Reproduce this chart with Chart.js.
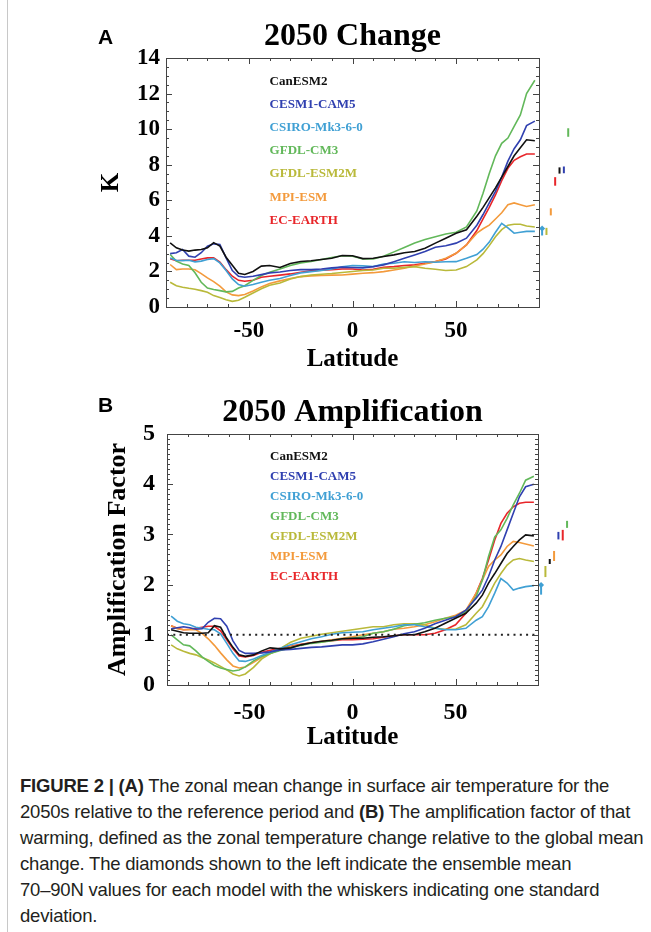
<!DOCTYPE html>
<html lang="en">
<head>
<meta charset="UTF-8">
<title>2050 Change / 2050 Amplification</title>
<script src="https://cdn.jsdelivr.net/npm/chart.js"></script>
<style>
  body {
    margin: 0;
    background: #fff;
    width: 651px;
    height: 932px;
    position: relative;
    overflow: hidden;
  }
  .panel {
    position: absolute;
    left: 0;
    width: 651px;
    height: 380px;
  }
  #panelA { top: 0; }
  #panelB { top: 380px; }
  .tag {
    position: absolute;
    left: 98px;
    font: bold 21px/21px "Liberation Sans", Arial, sans-serif;
    color: #000;
  }
  .edge {
    position: absolute;
    left: 7px;
    top: 0;
    width: 1px;
    height: 932px;
    background: #c8c8c8;
  }
  #caption {
    position: absolute;
    left: 20px;
    top: 773px;
    font: 18.5px/26px "Liberation Sans", Arial, sans-serif;
    letter-spacing: -0.2px;
    color: #231f20;
    white-space: nowrap;
  }
  #caption b { font-weight: bold; }
</style>
</head>
<body>
<div class="edge"></div>
<div class="panel" id="panelA"><canvas id="changeChart"></canvas></div>
<div class="panel" id="panelB"><canvas id="ampChart"></canvas></div>
<div class="tag" style="top:26px">A</div>
<div class="tag" style="top:394px">B</div>
<div id="caption">
  <b>FIGURE 2 | (A)</b> The zonal mean change in surface air temperature for the<br>
  2050s relative to the reference period and <b>(B)</b> The amplification factor of that<br>
  warming, defined as the zonal temperature change relative to the global mean<br>
  change. The diamonds shown to the left indicate the ensemble mean<br>
  70–90N values for each model with the whiskers indicating one standard<br>
  deviation.
</div>

<script>
  // latitude grid shared by every zonal-mean curve
  const latitude = [-88, -85, -82, -79, -76, -73, -70, -67, -64, -61, -58, -55, -52, -48, -44, -40,
    -35, -30, -25, -20, -15, -10, -5, 0, 5, 10, 15, 20, 25, 30, 35, 40, 45, 50, 55, 60,
    63, 66, 69, 72, 75, 78, 81, 84, 88];

  const models = ['CanESM2', 'CESM1-CAM5', 'CSIRO-Mk3-6-0', 'GFDL-CM3', 'GFDL-ESM2M', 'MPI-ESM', 'EC-EARTH'];

  // 2050 zonal mean temperature change (K)
  const changeCanESM2 = [3.6, 3.33, 3.2, 3.14, 3.2, 3.23, 3.33, 3.62, 3.42, 2.8, 2.35, 1.9, 1.83, 2.0, 2.3, 2.33,
    2.22, 2.45, 2.56, 2.6, 2.67, 2.74, 2.89, 2.88, 2.72, 2.74, 2.84, 2.93, 3.05, 3.12, 3.3, 3.59, 3.87, 4.15, 4.34, 5.1,
    5.6, 6.15, 6.7, 7.3, 7.9, 8.5, 8.95, 9.4, 9.35];
  const changeCESM1 = [3.0, 3.05, 3.23, 2.86, 2.8, 3.05, 3.42, 3.55, 3.52, 2.76, 2.05, 1.73, 1.67, 1.73, 1.82, 1.92,
    1.97, 2.05, 2.1, 2.1, 2.14, 2.2, 2.24, 2.22, 2.2, 2.27, 2.37, 2.55, 2.74, 2.93, 3.12, 3.36, 3.44, 3.59, 3.87, 4.6,
    5.2, 5.85, 6.5, 7.3, 8.2, 8.9, 9.4, 10.2, 10.45];
  const changeCSIRO = [2.76, 2.63, 2.61, 2.63, 2.54, 2.58, 2.67, 2.72, 2.48, 2.05, 1.58, 1.26, 1.17, 1.26, 1.39, 1.5,
    1.6, 1.77, 1.92, 1.99, 2.05, 2.14, 2.26, 2.33, 2.31, 2.27, 2.42, 2.46, 2.54, 2.5, 2.54, 2.52, 2.54, 2.55, 2.74, 2.95,
    3.25, 3.65, 4.2, 4.7, 4.45, 4.15, 4.2, 4.25, 4.25];
  const changeGFDLCM3 = [2.95, 2.58, 2.42, 2.33, 1.92, 1.39, 1.07, 0.98, 0.92, 0.85, 0.88, 1.07, 1.2, 1.5, 1.77, 1.95,
    2.14, 2.33, 2.48, 2.56, 2.67, 2.78, 2.88, 2.85, 2.7, 2.7, 2.85, 3.1, 3.35, 3.6, 3.8, 3.95, 4.1, 4.2, 4.5, 5.4,
    6.4, 7.5, 8.5, 9.2, 9.5, 10.15, 10.8, 12.0, 12.75];
  const changeGFDLESM2M = [1.39, 1.2, 1.11, 1.05, 1.0, 0.92, 0.83, 0.64, 0.53, 0.41, 0.32, 0.38, 0.55, 0.79, 1.03, 1.22,
    1.35, 1.58, 1.71, 1.8, 1.84, 1.88, 1.94, 2.0, 2.05, 2.08, 2.18, 2.18, 2.23, 2.27, 2.18, 2.12, 2.05, 2.08, 2.27, 2.65,
    3.0, 3.45, 3.95, 4.35, 4.6, 4.65, 4.65, 4.55, 4.5];
  const changeMPI = [2.39, 2.1, 2.14, 2.14, 2.09, 1.88, 1.64, 1.43, 1.17, 0.85, 0.68, 0.64, 0.7, 0.9, 1.13, 1.32,
    1.47, 1.6, 1.71, 1.75, 1.77, 1.79, 1.8, 1.85, 1.9, 1.93, 1.99, 2.08, 2.18, 2.31, 2.42, 2.55, 2.74, 3.02, 3.49, 4.15,
    4.4, 4.6, 4.95, 5.3, 5.75, 5.85, 5.75, 5.65, 5.75];
  const changeECEARTH = [2.72, 2.6, 2.63, 2.63, 2.63, 2.7, 2.76, 2.76, 2.52, 2.1, 1.73, 1.5, 1.45, 1.5, 1.67, 1.73,
    1.79, 1.86, 1.95, 2.03, 2.07, 2.1, 2.14, 2.14, 2.08, 2.12, 2.23, 2.27, 2.33, 2.37, 2.46, 2.55, 2.7, 3.02, 3.49, 4.3,
    4.95, 5.6, 6.3, 7.1, 7.8, 8.25, 8.45, 8.6, 8.6];

  // 2050 amplification factor (zonal change / global mean change)
  const ampCanESM2 = [1.1, 1.07, 1.04, 1.03, 1.03, 1.03, 1.04, 1.18, 1.15, 0.93, 0.75, 0.6, 0.57, 0.6, 0.68, 0.74,
    0.72, 0.74, 0.8, 0.84, 0.87, 0.89, 0.92, 0.93, 0.93, 0.95, 0.96, 0.98, 1.0, 1.0, 1.06, 1.13, 1.23, 1.33, 1.43, 1.63,
    1.79, 2.03, 2.22, 2.42, 2.62, 2.76, 2.89, 2.99, 2.97];
  const ampCESM1 = [1.12, 1.14, 1.16, 1.14, 1.11, 1.12, 1.25, 1.33, 1.32, 1.17, 0.88, 0.69, 0.63, 0.63, 0.64, 0.66,
    0.7, 0.71, 0.73, 0.75, 0.76, 0.78, 0.8, 0.8, 0.82, 0.86, 0.91, 0.96, 1.02, 1.06, 1.13, 1.22, 1.29, 1.36, 1.49, 1.73,
    1.89, 2.16, 2.49, 2.76, 3.09, 3.42, 3.75, 3.95, 4.0];
  const ampCSIRO = [1.37, 1.27, 1.22, 1.2, 1.15, 1.13, 1.11, 1.1, 1.02, 0.83, 0.63, 0.48, 0.47, 0.52, 0.59, 0.65,
    0.73, 0.8, 0.86, 0.92, 0.96, 1.01, 1.04, 1.05, 1.06, 1.1, 1.13, 1.16, 1.2, 1.2, 1.16, 1.13, 1.1, 1.1, 1.13, 1.29,
    1.36, 1.56, 1.83, 2.12, 2.03, 1.89, 1.93, 1.96, 1.98];
  const ampGFDLCM3 = [1.0, 0.9, 0.8, 0.78, 0.68, 0.56, 0.47, 0.39, 0.34, 0.31, 0.28, 0.3, 0.36, 0.48, 0.57, 0.63,
    0.69, 0.74, 0.79, 0.83, 0.85, 0.88, 0.92, 0.93, 0.96, 1.03, 1.06, 1.11, 1.18, 1.21, 1.24, 1.29, 1.33, 1.36, 1.46, 1.76,
    2.09, 2.56, 2.95, 3.09, 3.32, 3.59, 3.82, 4.08, 4.16];
  const ampGFDLESM2M = [0.8, 0.72, 0.67, 0.63, 0.6, 0.55, 0.5, 0.44, 0.37, 0.3, 0.22, 0.18, 0.22, 0.35, 0.52, 0.62,
    0.73, 0.85, 0.93, 0.97, 1.01, 1.04, 1.07, 1.1, 1.13, 1.16, 1.16, 1.2, 1.22, 1.22, 1.2, 1.13, 1.11, 1.11, 1.2, 1.43,
    1.56, 1.79, 2.03, 2.22, 2.39, 2.49, 2.52, 2.49, 2.46];
  const ampMPI = [1.18, 1.12, 1.1, 1.1, 1.1, 1.03, 0.92, 0.79, 0.64, 0.5, 0.38, 0.34, 0.36, 0.45, 0.55, 0.63,
    0.7, 0.76, 0.8, 0.84, 0.87, 0.9, 0.93, 0.96, 1.0, 1.03, 1.06, 1.11, 1.13, 1.16, 1.2, 1.26, 1.33, 1.39, 1.49, 1.83,
    2.09, 2.36, 2.49, 2.59, 2.76, 2.86, 2.84, 2.81, 2.77];
  const ampECEARTH = [1.18, 1.13, 1.1, 1.11, 1.13, 1.15, 1.17, 1.17, 1.08, 0.9, 0.72, 0.58, 0.56, 0.59, 0.65, 0.69,
    0.73, 0.77, 0.81, 0.84, 0.86, 0.88, 0.9, 0.9, 0.91, 0.92, 0.95, 0.98, 1.0, 1.0, 1.0, 1.03, 1.1, 1.2, 1.43, 1.83,
    2.12, 2.49, 2.89, 3.22, 3.42, 3.55, 3.62, 3.64, 3.64];

  // 70-90N ensemble mean and one standard deviation, in model order
  const arcticChangeMean = [7.85, 7.9, 4.42, 10.05, 4.45, 5.55, 7.3];
  const arcticChangeSd = [0.35, 0.38, 0.4, 0.48, 0.4, 0.4, 0.48];
  const arcticAmpMean = [2.51, 3.05, 1.99, 3.27, 2.37, 2.67, 3.09];
  const arcticAmpSd = [0.1, 0.15, 0.19, 0.14, 0.22, 0.2, 0.21];

  const modelColors = ['#111111', '#3040b0', '#40a0d4', '#62b85a', '#b9b93a', '#f39a3c', '#e8262a'];

  const serif = '"Liberation Serif", "Times New Roman", Times, serif';
  Chart.defaults.font.family = serif;
  Chart.defaults.font.weight = 'bold';
  Chart.defaults.color = '#000';

  // box around the plot with inward major/minor ticks on all four sides
  const frameTicks = {
    id: 'frameTicks',
    afterDraw(chart, args, o) {
      const {ctx, chartArea: a, scales: {x, y}} = chart;
      ctx.save();
      ctx.strokeStyle = '#444';
      ctx.lineWidth = 1;
      ctx.strokeRect(Math.round(a.left) + 0.5, Math.round(a.top) + 0.5,
        Math.round(a.right - a.left), Math.round(a.bottom - a.top));
      ctx.beginPath();
      const nx = Math.round((x.max - x.min) / o.xMinor);
      for (let i = 1; i < nx; i++) {
        const v = x.min + i * o.xMinor;
        const len = Math.abs(v % o.xMajor) < 1e-6 ? 6 : 3;
        const px = Math.round(x.getPixelForValue(v)) + 0.5;
        ctx.moveTo(px, a.bottom); ctx.lineTo(px, a.bottom - len);
        ctx.moveTo(px, a.top); ctx.lineTo(px, a.top + len);
      }
      const ny = Math.round((y.max - y.min) / o.yMinor);
      for (let i = 1; i < ny; i++) {
        const v = y.min + i * o.yMinor;
        const r = v / o.yMajor;
        const len = Math.abs(r - Math.round(r)) < 1e-6 ? 6 : 3;
        const py = Math.round(y.getPixelForValue(v)) + 0.5;
        ctx.moveTo(a.left, py); ctx.lineTo(a.left + len, py);
        ctx.moveTo(a.right, py); ctx.lineTo(a.right - len, py);
      }
      ctx.stroke();
      ctx.restore();
    }
  };

  // model names written in their line colours inside the plot
  const modelLabels = {
    id: 'modelLabels',
    afterDatasetsDraw(chart, args, o) {
      const {ctx, chartArea: a, scales: {x}} = chart;
      ctx.save();
      ctx.font = 'bold 13px ' + serif;
      ctx.textBaseline = 'middle';
      ctx.textAlign = 'left';
      models.forEach((name, i) => {
        ctx.fillStyle = modelColors[i];
        ctx.fillText(name, x.getPixelForValue(o.lat), a.top + o.top + i * o.step);
      });
      ctx.restore();
    }
  };

  function curve(label, values, color) {
    return {
      label: label,
      data: latitude.map((lat, i) => ({x: lat, y: values[i]})),
      borderColor: color,
      borderWidth: 1.6,
      pointRadius: 0,
      tension: 0,
      fill: false
    };
  }

  // whiskers beyond 90N, ordered left to right by the ensemble mean
  function whiskers(means, sds) {
    const order = means.map((m, i) => i).sort((a, b) => means[a] - means[b]);
    return order.map((i, rank) => {
      const xp = 91.5 + rank * 2.1;
      return {
        label: models[i] + ' 70-90N',
        data: [{x: xp, y: means[i] - sds[i]}, {x: xp, y: means[i]}, {x: xp, y: means[i] + sds[i]}],
        borderColor: modelColors[i],
        backgroundColor: modelColors[i],
        borderWidth: 2,
        pointStyle: 'rectRot',
        pointRadius: c => c.dataIndex === 1 ? 3 : 0,
        pointBorderWidth: 0,
        clip: false
      };
    });
  }

  function makePanel(id, cfg) {
    const datasets = cfg.series.map((s, i) => curve(models[i], s, modelColors[i]));
    if (cfg.refLine) {
      datasets.unshift({
        label: 'reference',
        data: [{x: -90, y: 1}, {x: 90, y: 1}],
        borderColor: '#222',
        borderWidth: 2,
        borderDash: [2, 4.3],
        pointRadius: 0
      });
    }
    datasets.push(...whiskers(cfg.means, cfg.sds));

    return new Chart(document.getElementById(id), {
      type: 'line',
      data: {datasets},
      options: {
        responsive: true,
        maintainAspectRatio: false,
        animation: false,
        layout: {padding: {top: cfg.padTop, right: 651 - cfg.right, left: 0, bottom: 0}},
        plugins: {
          legend: {display: false},
          tooltip: {enabled: false},
          title: {
            display: true,
            text: cfg.title,
            fullSize: false,
            font: {size: 32, weight: 'bold', lineHeight: 1},
            padding: {top: 0, bottom: 5}
          },
          frameTicks: {xMinor: 10, xMajor: 50, yMinor: cfg.yMinor, yMajor: cfg.yStep},
          modelLabels: {lat: -40, top: cfg.labelTop, step: cfg.labelStep}
        },
        scales: {
          x: {
            type: 'linear',
            min: -90,
            max: 90,
            grid: {display: false, drawTicks: false},
            border: {display: false},
            afterBuildTicks: s => { s.ticks = [-50, 0, 50].map(v => ({value: v})); },
            afterFit: s => { s.height = cfg.xHeight; },
            ticks: {font: {size: cfg.tickSize, lineHeight: 1}, padding: cfg.xTickPad, maxRotation: 0},
            title: {
              display: true,
              text: 'Latitude',
              font: {size: 25, weight: 'bold', lineHeight: 1},
              padding: {top: 0, bottom: cfg.xTitlePad}
            }
          },
          y: {
            min: 0,
            max: cfg.yMax,
            grid: {display: false, drawTicks: false},
            border: {display: false},
            afterFit: s => { s.width = cfg.left; },
            ticks: {stepSize: cfg.yStep, font: {size: cfg.tickSize, lineHeight: 1}, padding: cfg.yTickPad},
            title: {
              display: true,
              text: cfg.yTitle,
              font: {size: cfg.yTitleSize, weight: 'bold', lineHeight: 1},
              padding: {top: cfg.yTitlePad, bottom: 0}
            }
          }
        }
      },
      plugins: [frameTicks, modelLabels]
    });
  }

  makePanel('changeChart', {
    title: '2050 Change',
    series: [changeCanESM2, changeCESM1, changeCSIRO, changeGFDLCM3, changeGFDLESM2M, changeMPI, changeECEARTH],
    means: arcticChangeMean, sds: arcticChangeSd,
    refLine: false,
    padTop: 21, left: 166, right: 539,
    xHeight: 73, xTickPad: 13, xTitlePad: 7.5,
    tickSize: 23, yTickPad: 6,
    yMax: 14, yStep: 2, yMinor: 0.5,
    yTitle: 'K', yTitleSize: 25, yTitlePad: 99.5,
    labelTop: 23.7, labelStep: 23.1
  });

  makePanel('ampChart', {
    title: '2050 Amplification',
    series: [ampCanESM2, ampCESM1, ampCSIRO, ampGFDLCM3, ampGFDLESM2M, ampMPI, ampECEARTH],
    means: arcticAmpMean, sds: arcticAmpSd,
    refLine: true,
    padTop: 17, left: 167, right: 538,
    xHeight: 75, xTickPad: 16, xTitlePad: 9.5,
    tickSize: 24, yTickPad: 12,
    yMax: 5, yStep: 1, yMinor: 0.1,
    yTitle: 'Amplification Factor', yTitleSize: 26, yTitlePad: 105.5,
    labelTop: 22.7, labelStep: 20
  });
</script>
</body>
</html>
